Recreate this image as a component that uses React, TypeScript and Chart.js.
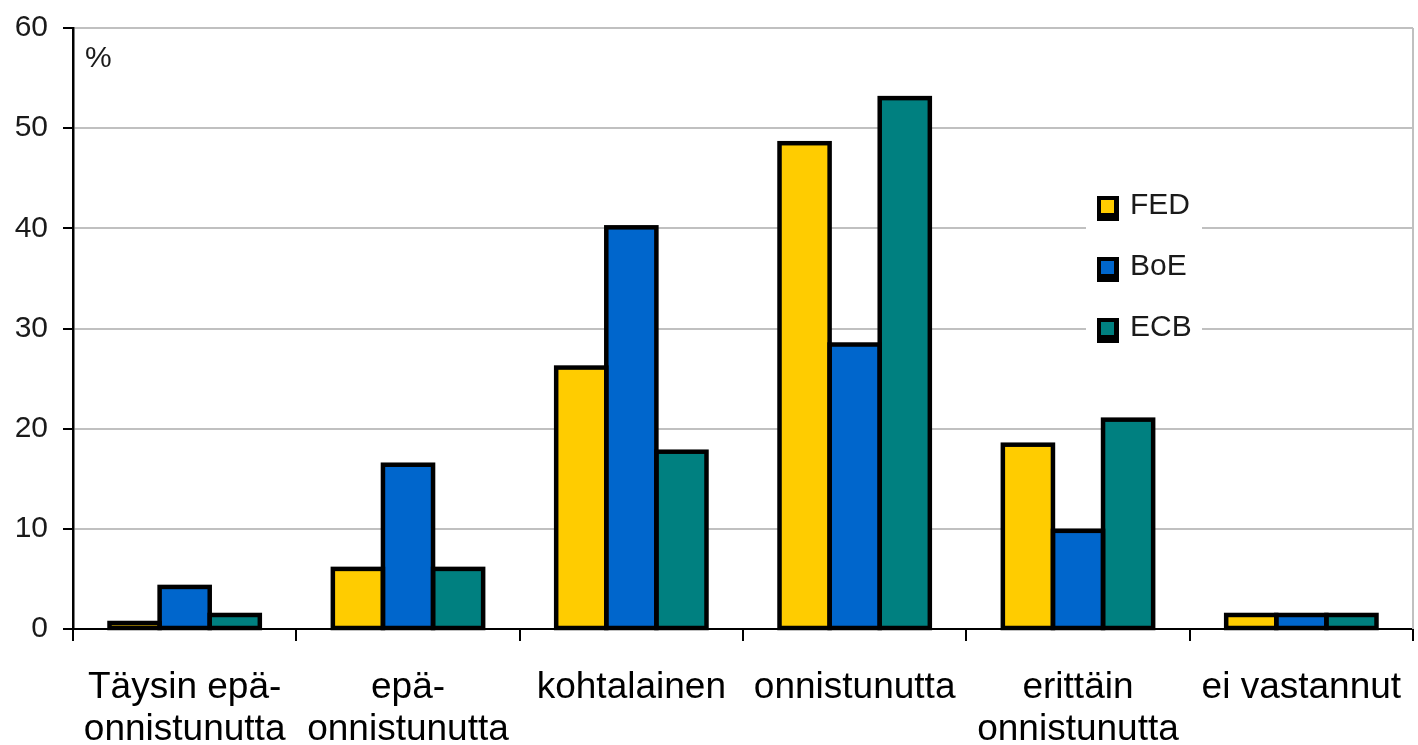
import React, { useEffect, useRef } from 'react';
import { Chart, registerables } from 'chart.js';

Chart.register(...registerables);

const categories: (string | string[])[] = [
  ['Täysin epä-', 'onnistunutta'],
  ['epä-', 'onnistunutta'],
  'kohtalainen',
  'onnistunutta',
  ['erittäin', 'onnistunutta'],
  'ei vastannut',
];
const seriesNames = ['FED', 'BoE', 'ECB'];
const fedValues = [0.6, 6.0, 26.1, 48.5, 18.4, 1.4];
const boeValues = [4.2, 16.4, 40.1, 28.4, 9.8, 1.4];
const ecbValues = [1.4, 6.0, 17.7, 53.0, 20.9, 1.4];
const seriesColors = ['#FFCC00', '#0066CC', '#008080'];
const yMin = 0;
const yMax = 60;
const yStep = 10;
const unitLabel = '%';

const FONT = '"Liberation Sans", Arial, Helvetica, sans-serif';

const outlinePlugin = {
  id: 'barOutline',
  beforeDatasetsDraw(chart: any) {
    const { ctx, chartArea } = chart;
    ctx.save();
    ctx.strokeStyle = '#c0c0c0';
    ctx.lineWidth = 2;
    ctx.beginPath();
    ctx.moveTo(chartArea.right, chartArea.top);
    ctx.lineTo(chartArea.right, chartArea.bottom);
    ctx.stroke();
    ctx.restore();
  },
  afterDatasetsDraw(chart: any) {
    const { ctx, chartArea } = chart;
    ctx.save();
    ctx.strokeStyle = '#000';
    ctx.lineWidth = 4.5;
    ctx.lineJoin = 'miter';
    chart.data.datasets.forEach((_: any, di: number) => {
      const meta = chart.getDatasetMeta(di);
      meta.data.forEach((el: any) => {
        const p = el.getProps(['x', 'y', 'base', 'width'], true);
        const left = p.x - p.width / 2;
        const top = Math.min(p.y, p.base);
        const h = Math.abs(p.base - p.y);
        ctx.strokeRect(left, top, p.width, h);
      });
    });

    // unit label
    ctx.fillStyle = '#1a1a1a';
    ctx.font = `30px ${FONT}`;
    ctx.textAlign = 'left';
    ctx.textBaseline = 'middle';
    ctx.fillText(unitLabel, chartArea.left + 12, 59);

    // legend
    ctx.fillStyle = '#ffffff';
    ctx.fillRect(1086, 172, 116, 186);
    const centers = [208, 269, 330];
    chart.data.datasets.forEach((ds: any, i: number) => {
      const c = centers[i];
      ctx.fillStyle = '#000';
      ctx.fillRect(1097, c - 12, 22, 25);
      ctx.fillStyle = ds.backgroundColor;
      ctx.fillRect(1101, c - 8, 13, 13);
      ctx.fillStyle = '#1a1a1a';
      ctx.font = `30px ${FONT}`;
      ctx.textAlign = 'left';
      ctx.textBaseline = 'middle';
      ctx.fillText(ds.label, 1130, c - 2);
    });
    ctx.restore();
  },
};

export default function App() {
  const ref = useRef<HTMLCanvasElement | null>(null);
  useEffect(() => {
    document.body.style.margin = '0';
    const canvas = ref.current;
    if (!canvas) return;
    const values = [fedValues, boeValues, ecbValues];
    const chart = new Chart(canvas, {
      type: 'bar',
      data: {
        labels: categories as any,
        datasets: seriesNames.map((name, i) => ({
          label: name,
          data: values[i],
          backgroundColor: seriesColors[i],
          borderWidth: 0,
          barPercentage: 1,
          categoryPercentage: 0.673,
        })),
      },
      options: {
        animation: false,
        responsive: false,
        devicePixelRatio: 1,
        layout: { padding: { left: 0, right: 5, top: 28, bottom: 0 } },
        plugins: { legend: { display: false }, tooltip: { enabled: false } },
        scales: {
          x: {
            grid: {
              offset: true,
              drawOnChartArea: false,
              drawTicks: true,
              tickLength: 12,
              color: '#000',
              lineWidth: 2,
            },
            border: { display: true, color: '#000', width: 2 },
            ticks: {
              font: { family: FONT, size: 37, lineHeight: 1.14 },
              color: '#000',
              padding: 26,
              maxRotation: 0,
              minRotation: 0,
              autoSkip: false,
            },
            afterFit: (s: any) => {
              s.height = 116;
              s.paddingLeft = 0;
              s.paddingRight = 0;
            },
          },
          y: {
            min: yMin,
            max: yMax,
            ticks: {
              stepSize: yStep,
              font: { family: FONT, size: 30 },
              color: '#1a1a1a',
              padding: 15,
            },
            grid: {
              color: '#c0c0c0',
              lineWidth: 2,
              tickColor: '#000',
              tickLength: 10,
            },
            border: { display: true, color: '#000', width: 2.5 },
            afterFit: (s: any) => {
              s.width = 73;
              s.paddingTop = 0;
              s.paddingBottom = 0;
            },
          },
        },
      },
      plugins: [outlinePlugin],
    });
    return () => chart.destroy();
  }, []);
  return (
    <canvas
      ref={ref}
      width={1418}
      height={745}
      style={{ display: 'block', width: '1418px', height: '745px' }}
    />
  );
}
